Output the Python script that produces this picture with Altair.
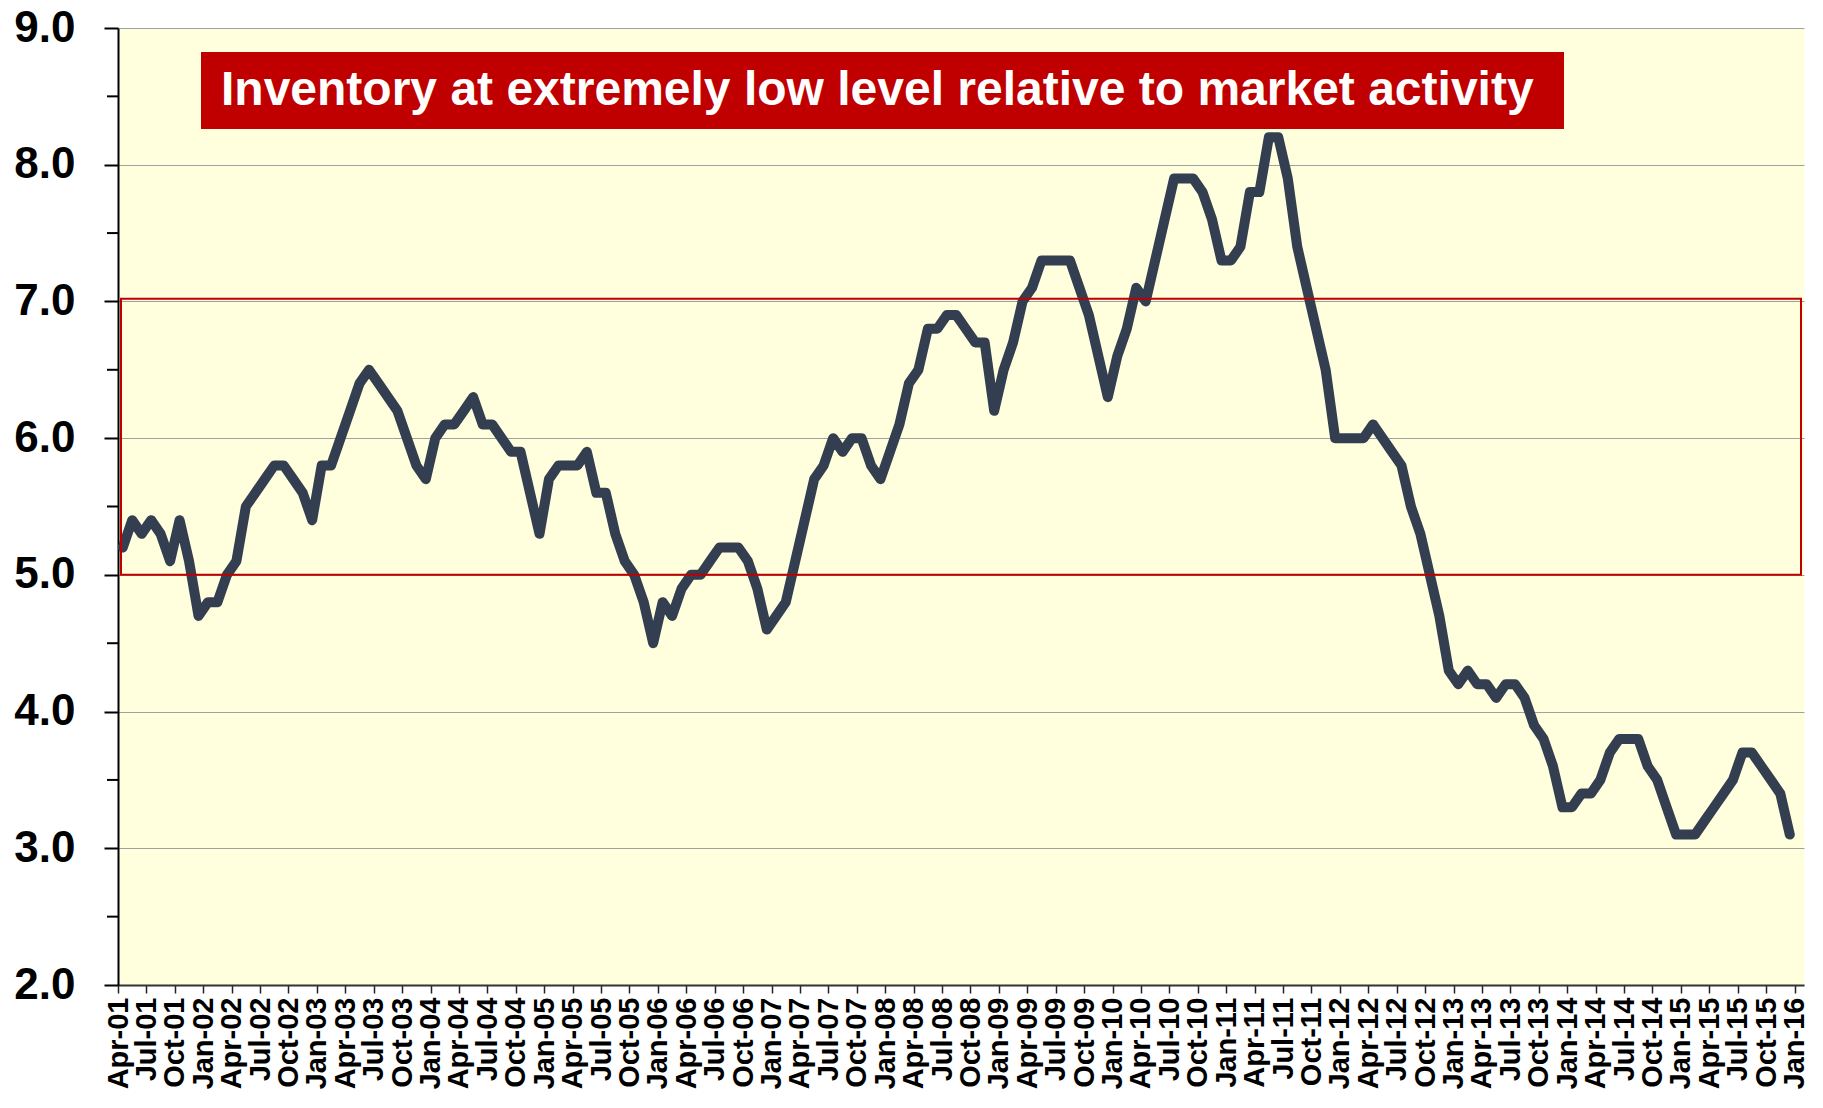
import json
import altair as alt
import pandas as pd

# Monthly months-of-supply values, Apr-01 .. Dec-15 (axis runs to Jan-16)
values = [
    5.2, 5.4, 5.3, 5.4, 5.3, 5.1, 5.4, 5.1, 4.7,            # Apr-01 .. Dec-01
    4.8, 4.8, 5.0, 5.1, 5.5, 5.6, 5.7, 5.8, 5.8, 5.7, 5.6, 5.4,  # 2002
    5.8, 5.8, 6.0, 6.2, 6.4, 6.5, 6.4, 6.3, 6.2, 6.0, 5.8, 5.7,  # 2003
    6.0, 6.1, 6.1, 6.2, 6.3, 6.1, 6.1, 6.0, 5.9, 5.9, 5.6, 5.3,  # 2004
    5.7, 5.8, 5.8, 5.8, 5.9, 5.6, 5.6, 5.3, 5.1, 5.0, 4.8, 4.5,  # 2005
    4.8, 4.7, 4.9, 5.0, 5.0, 5.1, 5.2, 5.2, 5.2, 5.1, 4.9, 4.6,  # 2006
    4.7, 4.8, 5.1, 5.4, 5.7, 5.8, 6.0, 5.9, 6.0, 6.0, 5.8, 5.7,  # 2007
    5.9, 6.1, 6.4, 6.5, 6.8, 6.8, 6.9, 6.9, 6.8, 6.7, 6.7, 6.2,  # 2008
    6.5, 6.7, 7.0, 7.1, 7.3, 7.3, 7.3, 7.3, 7.1, 6.9, 6.6, 6.3,  # 2009
    6.6, 6.8, 7.1, 7.0, 7.3, 7.6, 7.9, 7.9, 7.9, 7.8, 7.6, 7.3,  # 2010
    7.3, 7.4, 7.8, 7.8, 8.2, 8.2, 7.9, 7.4, 7.1, 6.8, 6.5, 6.0,  # 2011
    6.0, 6.0, 6.0, 6.1, 6.0, 5.9, 5.8, 5.5, 5.3, 5.0, 4.7, 4.3,  # 2012
    4.2, 4.3, 4.2, 4.2, 4.1, 4.2, 4.2, 4.1, 3.9, 3.8, 3.6, 3.3,  # 2013
    3.3, 3.4, 3.4, 3.5, 3.7, 3.8, 3.8, 3.8, 3.6, 3.5, 3.3, 3.1,  # 2014
    3.1, 3.1, 3.2, 3.3, 3.4, 3.5, 3.7, 3.7, 3.6, 3.5, 3.4, 3.1,  # 2015
]

tick_labels = [
    "Apr-01", "Jul-01", "Oct-01",
    "Jan-02", "Apr-02", "Jul-02", "Oct-02",
    "Jan-03", "Apr-03", "Jul-03", "Oct-03",
    "Jan-04", "Apr-04", "Jul-04", "Oct-04",
    "Jan-05", "Apr-05", "Jul-05", "Oct-05",
    "Jan-06", "Apr-06", "Jul-06", "Oct-06",
    "Jan-07", "Apr-07", "Jul-07", "Oct-07",
    "Jan-08", "Apr-08", "Jul-08", "Oct-08",
    "Jan-09", "Apr-09", "Jul-09", "Oct-09",
    "Jan-10", "Apr-10", "Jul-10", "Oct-10",
    "Jan-11", "Apr-11", "Jul-11", "Oct-11",
    "Jan-12", "Apr-12", "Jul-12", "Oct-12",
    "Jan-13", "Apr-13", "Jul-13", "Oct-13",
    "Jan-14", "Apr-14", "Jul-14", "Oct-14",
    "Jan-15", "Apr-15", "Jul-15", "Oct-15",
    "Jan-16",
]

y_ticks = [2.0, 3.0, 4.0, 5.0, 6.0, 7.0, 8.0, 9.0]
y_minor = [2.5, 3.5, 4.5, 5.5, 6.5, 7.5, 8.5]
band = [5.0, 7.02]
title_text = "Inventory at extremely low level relative to market activity"

n_cat = len(tick_labels) * 3 - 2  # 178 monthly categories Apr-01..Jan-16

df = pd.DataFrame({"pos": [i + 0.5 for i in range(len(values))], "value": values})
minor_df = pd.DataFrame({"v": y_minor})
band_df = pd.DataFrame({"lo": [band[0]], "hi": [band[1]]})
title_df = pd.DataFrame({"t": [title_text]})

FONT = "Liberation Sans, Arial, sans-serif"
RED = "#C00000"

x_scale = alt.Scale(domain=[0, n_cat], nice=False, zero=False)
y_scale = alt.Scale(domain=[2, 9], nice=False, zero=False)

label_expr = json.dumps(tick_labels) + "[round(datum.value / 3)]"

x_axis = alt.Axis(
    values=[3 * k for k in range(len(tick_labels))],
    labelExpr=label_expr,
    labelAngle=270,
    labelAlign="right",
    labelBaseline="middle",
    labelFont=FONT,
    labelFontSize=29,
    labelFontWeight="bold",
    labelColor="black",
    labelPadding=4,
    labelOverlap=False,
    labelBound=False,
    labelFlush=False,
    tickColor="#222222",
    tickWidth=1.5,
    tickSize=8,
    domainColor="#333333",
    domainWidth=2,
    grid=False,
    title=None,
)

y_axis = alt.Axis(
    values=y_ticks,
    format=".1f",
    labelFont=FONT,
    labelFontSize=44,
    labelFontWeight="bold",
    labelColor="black",
    labelPadding=29,
    tickColor="black",
    tickWidth=2,
    tickSize=14,
    domainColor="black",
    domainWidth=2,
    grid=True,
    gridColor="#A0A0A0",
    gridWidth=1.2,
    title=None,
)

line = alt.Chart(df).mark_line(
    color="#333F50", strokeWidth=10, strokeCap="round", strokeJoin="round"
).encode(
    x=alt.X("pos:Q", scale=x_scale, axis=x_axis),
    y=alt.Y("value:Q", scale=y_scale, axis=y_axis),
)

minor = alt.Chart(minor_df).mark_rule(color="black", strokeWidth=2).encode(
    y=alt.Y("v:Q", scale=y_scale, axis=y_axis),
    x=alt.value(-11),
    x2=alt.value(0),
)

box = alt.Chart(band_df).mark_rect(
    fillOpacity=0, stroke=RED, strokeWidth=2
).encode(
    y=alt.Y("hi:Q", scale=y_scale, axis=y_axis),
    y2="lo:Q",
    x=alt.value(3),
    x2=alt.value(1683),
)

title_box = alt.Chart(title_df).mark_rect(color=RED).encode(
    x=alt.value(83), x2=alt.value(1446), y=alt.value(24), y2=alt.value(101)
)

title_txt = alt.Chart(title_df).mark_text(
    align="left", baseline="middle", font=FONT, fontSize=48,
    fontWeight="bold", color="white"
).encode(x=alt.value(103), y=alt.value(63), text="t:N")

chart = alt.layer(line, minor, box, title_box, title_txt).properties(
    width=1686,
    height=957,
    padding={"left": 110, "top": 20, "right": 11, "bottom": 115},
    autosize=alt.AutoSizeParams(type="none"),
    background="white",
).configure_view(fill="#FFFFDD", stroke=None)

chart.save("out.html", embed_options={"renderer": "svg", "actions": False})
